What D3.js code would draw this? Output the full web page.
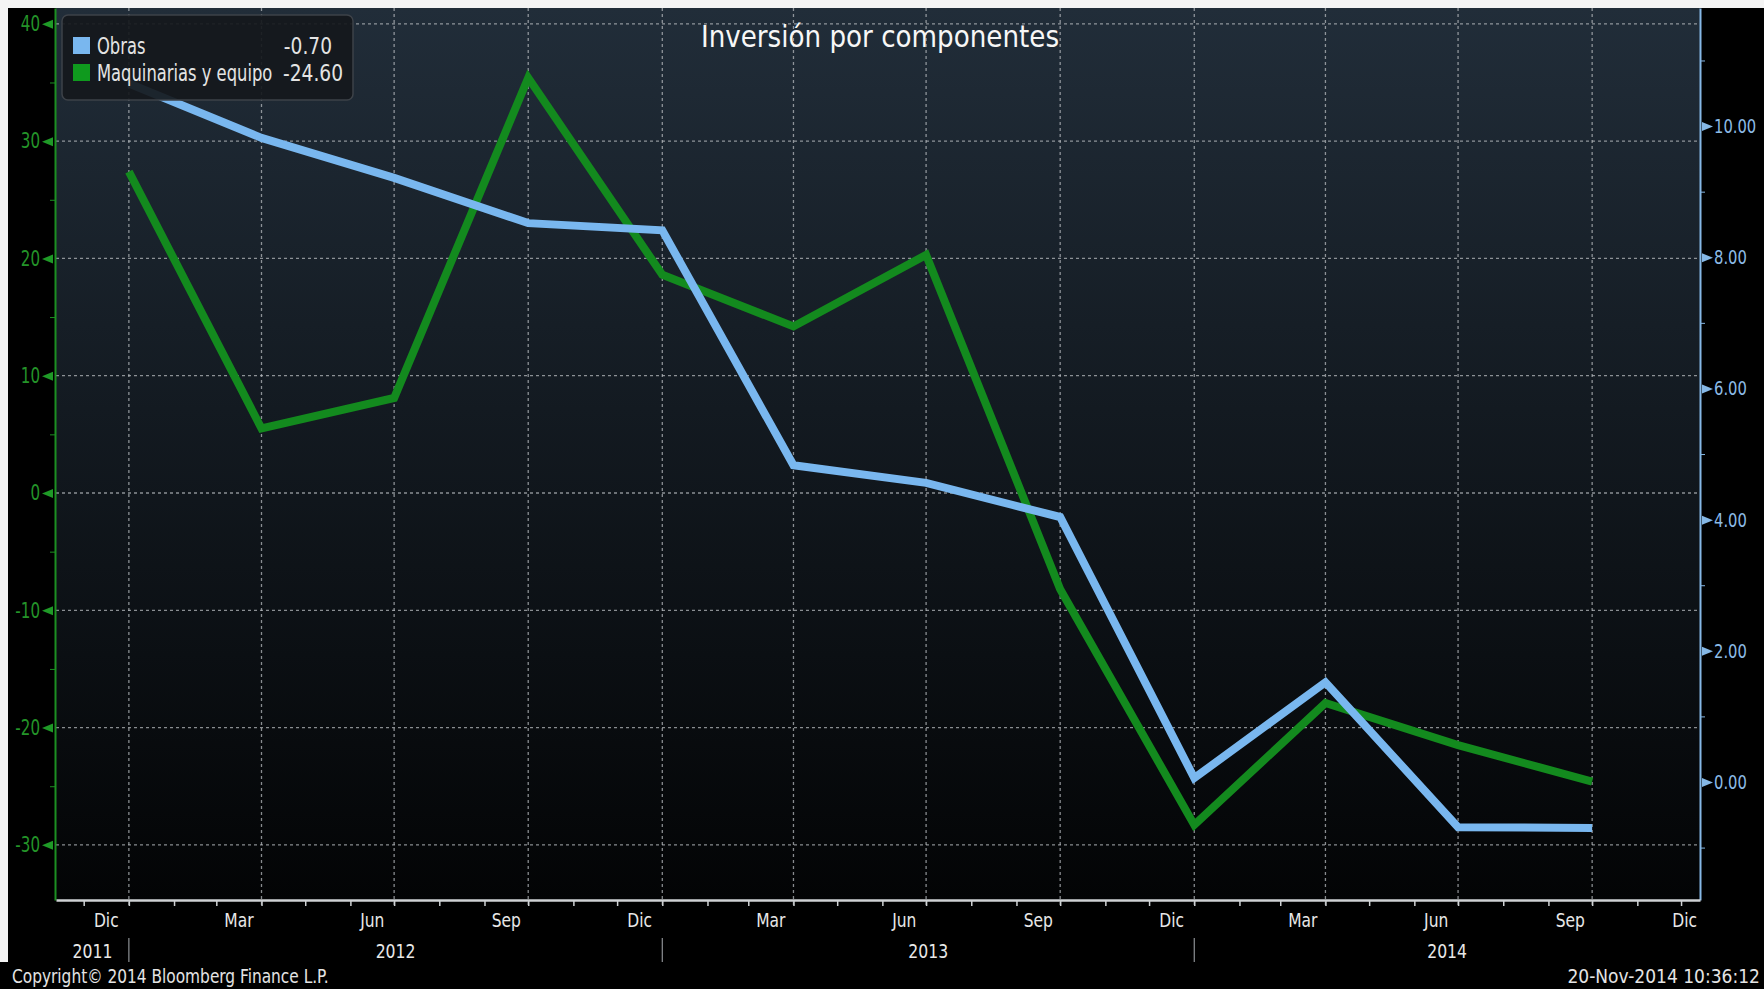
<!DOCTYPE html>
<html lang="es">
<head>
<meta charset="utf-8">
<title>Inversión por componentes</title>
<script src="https://cdn.jsdelivr.net/npm/d3@7"></script>
<style>
  html, body { margin: 0; padding: 0; background: #000; }
  svg { display: block; }
  .narrow { font-family: "DejaVu Sans Condensed", "DejaVu Sans", sans-serif; font-stretch: condensed; }
</style>
</head>
<body>
<div id="chart"></div>
<script>
// datos trimestrales (fin de trimestre)
var fechas = ["2011-12", "2012-03", "2012-06", "2012-09", "2012-12", "2013-03",
              "2013-06", "2013-09", "2013-12", "2014-03", "2014-06", "2014-09"];
var obras = [10.65, 9.82, 9.21, 8.52, 8.41, 4.83, 4.56, 4.04, 0.06, 1.52, -0.69, -0.70];
var maquinarias = [27.4, 5.5, 8.1, 35.4, 18.6, 14.2, 20.3, -8.2, -28.3, -17.9, -21.5, -24.6];

var series = ["Obras", "Maquinarias y equipo"];
var ticksIzq = [-30, -20, -10, 0, 10, 20, 30, 40];
var ticksIzqMenor = [-25, -15, -5, 5, 15, 25, 35];
var ticksDer = [0, 2, 4, 6, 8, 10];
var ticksDerMenor = [-1, 1, 3, 5, 7, 9, 11];
var nombresMes = ["Ene", "Feb", "Mar", "Abr", "May", "Jun", "Jul", "Ago", "Sep", "Oct", "Nov", "Dic"];

var W = 1764, H = 989;
var plot = {left: 56, right: 1700, top: 8, bottom: 900};

var azul = "#79b7ef", verde = "#138a1e";

var loc = d3.formatLocale({decimal: ".", thousands: ",", grouping: [3], currency: ["", ""], minus: "-"});
var f2 = loc.format(".2f"), f0 = loc.format("d");

var parseMes = d3.timeParse("%Y-%m");
// el dato se dibuja al cierre del mes
var fin = fechas.map(function(f) { return d3.timeMonth.offset(parseMes(f), 1); });

// comprime el texto a lo ancho (la fuente estrecha de Bloomberg no esta instalada)
function estrechar(sel, k) {
    sel.each(function() {
        var w = this.getComputedTextLength();
        d3.select(this).attr("textLength", w * k).attr("lengthAdjust", "spacingAndGlyphs");
    });
}

var svg = d3.select("#chart").append("svg")
    .attr("width", W)
    .attr("height", H);

var defs = svg.append("defs");
var grad = defs.append("linearGradient")
    .attr("id", "fondo")
    .attr("x1", 0).attr("y1", 0).attr("x2", 0).attr("y2", 1);
grad.append("stop").attr("offset", "0%").attr("stop-color", "#212d39");
grad.append("stop").attr("offset", "45%").attr("stop-color", "#131a21");
grad.append("stop").attr("offset", "100%").attr("stop-color", "#030405");

// fondo negro y borde blanco de la captura
svg.append("rect").attr("width", W).attr("height", H).attr("fill", "#000");
svg.append("rect").attr("width", W).attr("height", 8).attr("fill", "#f4f4f4");
svg.append("rect").attr("width", 8).attr("height", 962).attr("fill", "#f4f4f4");

svg.append("rect")
    .attr("x", plot.left).attr("y", plot.top)
    .attr("width", plot.right - plot.left)
    .attr("height", plot.bottom - plot.top)
    .attr("fill", "url(#fondo)");

// escalas
var x = d3.scaleTime()
    .domain([new Date(2011, 10, 12), new Date(2014, 11, 14)])
    .range([plot.left, plot.right]);

var yIzq = d3.scaleLinear()
    .domain([-34.7, 41.35])
    .range([plot.bottom, plot.top]);

var yDer = d3.scaleLinear()
    .domain([-1.799, 11.80])
    .range([plot.bottom, plot.top]);

// rejilla
var grid = svg.append("g")
    .attr("stroke", "#b4b8bc")
    .attr("stroke-opacity", 0.75)
    .attr("stroke-width", 1.3)
    .attr("stroke-dasharray", "3,3");

grid.selectAll("line.h")
    .data(ticksIzq)
    .enter().append("line")
    .attr("x1", plot.left).attr("x2", plot.right)
    .attr("y1", function(d) { return yIzq(d); })
    .attr("y2", function(d) { return yIzq(d); });

var trimestres = x.ticks(d3.timeMonth.every(3));
grid.selectAll("line.v")
    .data(trimestres)
    .enter().append("line")
    .attr("x1", function(d) { return x(d); })
    .attr("x2", function(d) { return x(d); })
    .attr("y1", plot.top).attr("y2", plot.bottom + 8);

// lineas
var lineaIzq = d3.line()
    .x(function(d, i) { return x(fin[i]); })
    .y(function(d) { return yIzq(d); });
var lineaDer = d3.line()
    .x(function(d, i) { return x(fin[i]); })
    .y(function(d) { return yDer(d); });

svg.append("path")
    .datum(maquinarias)
    .attr("d", lineaIzq)
    .attr("fill", "none")
    .attr("stroke", verde)
    .attr("stroke-width", 8)
    .attr("stroke-linejoin", "miter");

svg.append("path")
    .datum(obras)
    .attr("d", lineaDer)
    .attr("fill", "none")
    .attr("stroke", azul)
    .attr("stroke-width", 8)
    .attr("stroke-linejoin", "miter");

// eje izquierdo
var ejeIzq = svg.append("g")
    .attr("class", "narrow")
    .attr("transform", "translate(" + (plot.left - 1) + ",0)")
    .call(d3.axisLeft(yIzq).tickValues(ticksIzq).tickSize(0).tickPadding(15).tickFormat(f0));
ejeIzq.select(".domain").attr("stroke", "#1c8f22").attr("stroke-width", 2);
ejeIzq.selectAll("text")
    .attr("fill", "#249429")
    .attr("font-size", 21)
    .attr("font-family", null)
    .call(estrechar, 0.8);
ejeIzq.selectAll(".tick").append("path")
    .attr("d", "M-13,0L-2,-4.5L-2,4.5Z")
    .attr("fill", "#1f9a27");

svg.append("g")
    .attr("transform", "translate(" + (plot.left - 1) + ",0)")
    .call(d3.axisLeft(yIzq).tickValues(ticksIzqMenor).tickSize(5).tickFormat(""))
    .call(function(g) { g.select(".domain").remove(); })
    .selectAll("line").attr("stroke", "#1c8f22");

// eje derecho
var ejeDer = svg.append("g")
    .attr("class", "narrow")
    .attr("transform", "translate(" + plot.right + ",0)")
    .call(d3.axisRight(yDer).tickValues(ticksDer).tickSize(0).tickPadding(14).tickFormat(f2));
ejeDer.select(".domain").attr("stroke", "#86b8e6").attr("stroke-width", 2);
ejeDer.selectAll("text")
    .attr("fill", "#8cbbe6")
    .attr("font-size", 20)
    .attr("font-family", null)
    .call(estrechar, 0.82);
ejeDer.selectAll(".tick").append("path")
    .attr("d", "M13,0L2,-4.5L2,4.5Z")
    .attr("fill", "#86b8e6");

svg.append("g")
    .attr("transform", "translate(" + plot.right + ",0)")
    .call(d3.axisRight(yDer).tickValues(ticksDerMenor).tickSize(5).tickFormat(""))
    .call(function(g) { g.select(".domain").remove(); })
    .selectAll("line").attr("stroke", "#86b8e6");

// eje inferior: marcas mensuales
var ejeX = svg.append("g")
    .attr("transform", "translate(0," + plot.bottom + ")")
    .call(d3.axisBottom(x).ticks(d3.timeMonth.every(1)).tickSize(6).tickFormat("").tickSizeOuter(0));
ejeX.select(".domain").attr("stroke", "#cfd2d4").attr("stroke-width", 2.5);
ejeX.selectAll("line").attr("stroke", "#cfd2d4").attr("stroke-width", 1.5);

var etiquetas = svg.append("g")
    .attr("class", "narrow")
    .attr("fill", "#e8e8e8")
    .attr("font-size", 20)
    .attr("text-anchor", "middle");

// meses de cierre de trimestre, centrados en el mes
var meses = d3.timeMonth.range(new Date(2011, 11, 1), new Date(2015, 0, 1))
    .filter(function(d) { return d.getMonth() % 3 === 2; });
etiquetas.selectAll("text.mes")
    .data(meses)
    .enter().append("text")
    .attr("class", "mes")
    .attr("y", 927)
    .attr("x", function(d) { return (x(d) + x(d3.timeMonth.offset(d, 1))) / 2; })
    .text(function(d) { return nombresMes[d.getMonth()]; })
    .call(estrechar, 0.86)
    .each(function() {
        var w = +d3.select(this).attr("textLength");
        var cx = +d3.select(this).attr("x");
        if (cx + w / 2 > plot.right - 3) d3.select(this).attr("x", plot.right - 3 - w / 2);
    });

// años, centrados en el tramo visible
var anios = d3.timeYear.range(new Date(2011, 0, 1), new Date(2015, 0, 1));
etiquetas.selectAll("text.anio")
    .data(anios)
    .enter().append("text")
    .attr("class", "anio")
    .attr("y", 958)
    .attr("x", function(d) {
        var a = Math.max(x(d), plot.left);
        var b = Math.min(x(d3.timeYear.offset(d, 1)), plot.right);
        return (a + b) / 2;
    })
    .text(function(d) { return d.getFullYear(); })
    .call(estrechar, 0.87);

svg.append("g").selectAll("line")
    .data(anios.slice(1))
    .enter().append("line")
    .attr("x1", function(d) { return x(d); })
    .attr("x2", function(d) { return x(d); })
    .attr("y1", 938).attr("y2", 962)
    .attr("stroke", "#8d9094")
    .attr("stroke-width", 1.2);

// titulo
svg.append("text")
    .attr("class", "narrow")
    .attr("x", 880)
    .attr("y", 47)
    .attr("text-anchor", "middle")
    .attr("font-size", 30)
    .attr("fill", "#f7f7f7")
    .text("Inversión por componentes")
    .call(estrechar, 0.97);

// leyenda
var leyenda = svg.append("g").attr("class", "narrow");
leyenda.append("rect")
    .attr("x", 62).attr("y", 15)
    .attr("width", 291).attr("height", 85)
    .attr("rx", 6)
    .attr("fill", "#15181c")
    .attr("fill-opacity", 0.92)
    .attr("stroke", "#3d4248")
    .attr("stroke-width", 1.5);

var items = [
    {nombre: series[0], valor: obras[obras.length - 1], color: azul, fin: 332},
    {nombre: series[1], valor: maquinarias[maquinarias.length - 1], color: "#0f9a1e", fin: 343}
];
var item = leyenda.selectAll("g.item")
    .data(items)
    .enter().append("g")
    .attr("transform", function(d, i) { return "translate(0," + (i * 27) + ")"; });
item.append("rect")
    .attr("x", 73).attr("y", 37)
    .attr("width", 17).attr("height", 17)
    .attr("fill", function(d) { return d.color; });
// nombre comprimido con una escala horizontal
item.append("text")
    .attr("transform", "translate(97,54) scale(0.79,1)")
    .attr("font-size", 23)
    .attr("fill", "#e4e4e4")
    .text(function(d) { return d.nombre; });
item.append("text")
    .attr("transform", function(d) { return "translate(" + d.fin + ",54) scale(0.9,1)"; })
    .attr("text-anchor", "end")
    .attr("font-size", 23)
    .attr("fill", "#e4e4e4")
    .text(function(d) { return f2(d.valor); });

// pie
var pie = svg.append("g").attr("class", "narrow")
    .attr("font-size", 19)
    .attr("fill", "#e4e4e4");
pie.append("text").attr("x", 12).attr("y", 983)
    .text("Copyright\u00a9 2014 Bloomberg Finance L.P.")
    .call(estrechar, 0.9);
pie.append("text").attr("x", 1760).attr("y", 983)
    .attr("text-anchor", "end")
    .text("20-Nov-2014 10:36:12");
</script>
</body>
</html>
